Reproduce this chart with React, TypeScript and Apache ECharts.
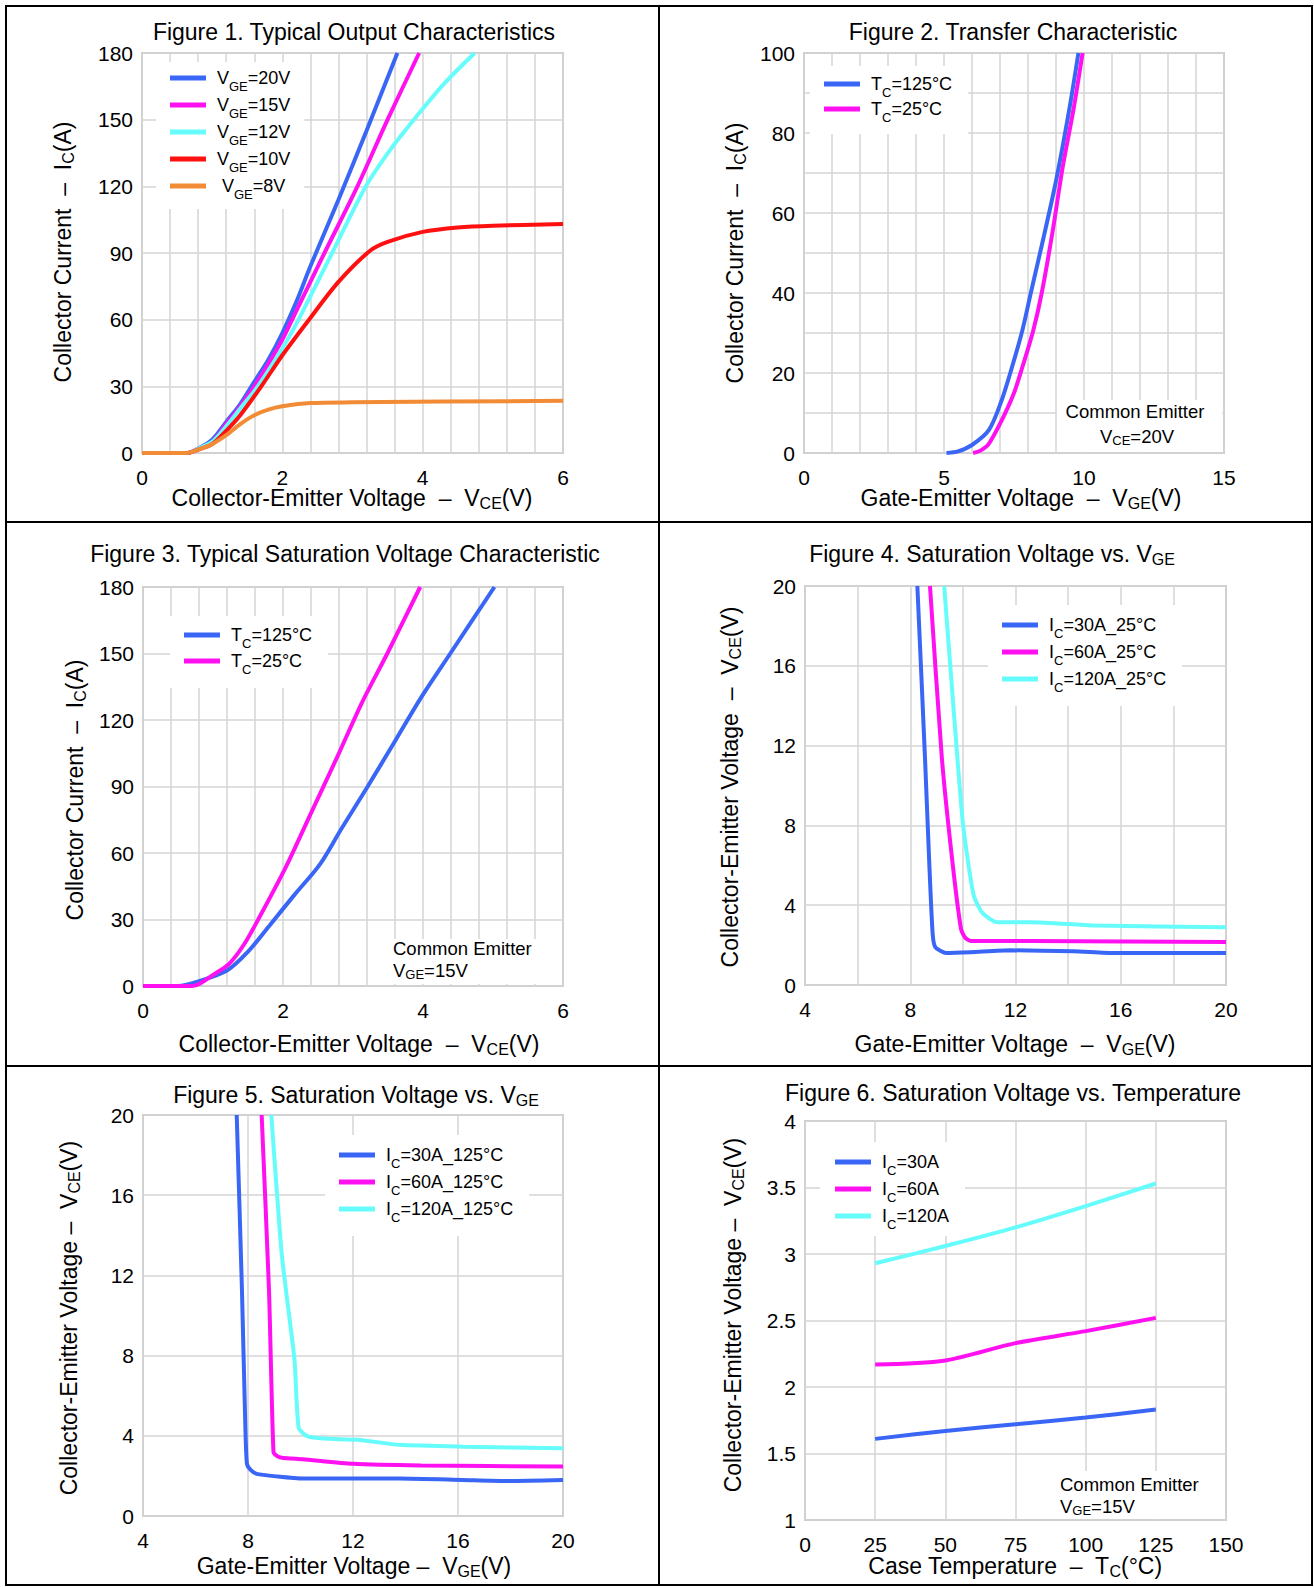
import {useEffect, useRef} from "react";
import * as echarts from "echarts";

// Figure 1: output characteristics, [VCE, IC]
const f1Vge20 = [[0, 0], [0.65, 0], [0.8, 2], [1.0, 6], [1.2, 14], [1.4, 22], [1.6, 32], [1.8, 42], [2.0, 54], [2.2, 68], [2.4, 84], [2.8, 114], [3.2, 145], [3.64, 180]];
const f1Vge15 = [[0, 0], [0.65, 0], [0.8, 2], [1.0, 5], [1.2, 13], [1.4, 21], [1.6, 30], [1.8, 40], [2.0, 51], [2.2, 64], [2.6, 90], [3.07, 120], [3.5, 150], [3.95, 180]];
const f1Vge12 = [[0, 0], [0.65, 0], [0.8, 2], [1.0, 5], [1.2, 12], [1.4, 20], [1.65, 30], [2.0, 47], [2.23, 60], [2.71, 90], [3.19, 120], [3.55, 137], [3.9, 151], [4.3, 166], [4.74, 180]];
const f1Vge10 = [[0, 0], [0.65, 0], [0.8, 1.5], [1.0, 4], [1.2, 10], [1.4, 17], [1.7, 30], [2.0, 44], [2.38, 60], [2.8, 77], [3.25, 91], [3.5, 95], [4.0, 99.5], [4.5, 101.5], [5, 102.3], [6, 103]];
const f1Vge8 = [[0, 0], [0.65, 0], [0.8, 1.5], [1.0, 4], [1.2, 8], [1.4, 13], [1.6, 17], [1.8, 19.5], [2.0, 21], [2.4, 22.5], [3, 22.8], [6, 23.5]];

// Figure 2: transfer characteristic, [VGE, IC]
const f2Tc125 = [[5.09, 0], [5.5, 0.4], [6.0, 2], [6.6, 5.7], [7.05, 13], [7.43, 21.5], [7.8, 30.7], [8.1, 40], [8.56, 54], [9.0, 68], [9.47, 85.7], [9.8, 100]];
const f2Tc25 = [[6.04, 0], [6.3, 0.6], [6.6, 2.3], [7.05, 8], [7.5, 15], [7.8, 21.5], [8.19, 30.7], [8.49, 40], [8.87, 55], [9.24, 71.5], [9.62, 85.7], [9.95, 100]];

// Figure 3: saturation voltage characteristic, [VCE, IC]
const f3Tc125 = [[0, 0], [0.5, 0], [0.78, 2], [1.2, 7], [1.5, 15.5], [1.8, 27], [2.16, 41], [2.53, 55], [2.83, 70.7], [3.19, 89], [3.61, 111], [3.97, 130], [4.39, 150], [5.02, 180]];
const f3Tc25 = [[0, 0], [0.7, 0], [0.81, 1], [1.02, 5.4], [1.23, 10], [1.44, 18.6], [1.68, 32], [2.04, 53.6], [2.4, 78], [2.77, 103], [3.13, 128], [3.49, 150], [3.96, 180]];

// Figure 4: VCE vs VGE at 25°C, [VGE, VCE]
const f4Ic30 = [[8.27, 20], [8.56, 11.4], [8.72, 6.2], [8.85, 2.6], [8.95, 1.9], [9.37, 1.6], [10.3, 1.64], [11.8, 1.74], [14.2, 1.69], [15.8, 1.6], [20, 1.6]];
const f4Ic60 = [[8.75, 20], [9.2, 11.4], [9.6, 6.2], [9.93, 2.8], [10.1, 2.35], [10.33, 2.2], [12.6, 2.2], [20, 2.15]];
const f4Ic120 = [[9.29, 20], [9.69, 13.1], [10.01, 8], [10.41, 4.5], [10.75, 3.6], [11.3, 3.15], [12.6, 3.15], [15, 2.98], [20, 2.9]];

// Figure 5: VCE vs VGE at 125°C, [VGE, VCE]
const f5Ic30 = [[7.57, 20], [7.77, 11.26], [7.9, 4.4], [7.96, 2.6], [8.1, 2.3], [8.33, 2.1], [9.13, 1.97], [10.09, 1.87], [13.78, 1.87], [16.18, 1.8], [17.8, 1.75], [20, 1.8]];
const f5Ic60 = [[8.52, 20], [8.8, 11.26], [8.97, 3.2], [9.1, 3.0], [9.29, 2.91], [10.1, 2.83], [12, 2.6], [14.6, 2.52], [20, 2.47]];
const f5Ic120 = [[8.89, 20], [9.29, 13], [9.77, 7.8], [9.93, 4.4], [10.25, 3.98], [10.9, 3.86], [12.17, 3.8], [13.78, 3.55], [16.18, 3.46], [20, 3.38]];

// Figure 6: VCE vs case temperature, [TC, VCE]
const f6Temps = [25, 50, 75, 100, 125];
const f6Ic30 = [1.61, 1.67, 1.72, 1.77, 1.83];
const f6Ic60 = [2.17, 2.2, 2.33, 2.42, 2.52];
const f6Ic120 = [2.93, 3.06, 3.2, 3.36, 3.53];

const BLUE = "#3a66f5";
const MAGENTA = "#ff10f0";
const CYAN = "#66fcfc";
const RED = "#ff1010";
const ORANGE = "#f28b35";
const GRIDC = "#d4d4d4";
const FONT = "Liberation Sans, Arial, sans-serif";

const rich = {
    s: {fontSize: 13, fontFamily: FONT, verticalAlign: "bottom", lineHeight: 22, padding: [0, 0, -4, 0]},
    g: {width: 6},
};

function labelEvery(step: number) {
    return (v: number) => Math.abs(v / step - Math.round(v / step)) < 1e-6 ? String(+v.toFixed(2)) : "";
}

function xAxis(gridIndex: number, min: number, max: number, interval: number, labelStep: number, margin = 14) {
    return {
        type: "value", gridIndex, min, max, interval,
        axisLine: {show: false}, axisTick: {show: false},
        axisLabel: {color: "#000", fontSize: 21, fontFamily: FONT, margin, formatter: labelEvery(labelStep), showMaxLabel: true, showMinLabel: true},
        splitLine: {show: true, lineStyle: {color: GRIDC, width: 1.5}},
    };
}

function yAxis(gridIndex: number, min: number, max: number, interval: number, labelStep: number) {
    return {
        type: "value", gridIndex, min, max, interval,
        axisLine: {show: false}, axisTick: {show: false},
        axisLabel: {color: "#000", fontSize: 21, fontFamily: FONT, margin: 9, formatter: labelEvery(labelStep)},
        splitLine: {show: true, lineStyle: {color: GRIDC, width: 1.5}},
    };
}

function line(name: string, idx: number, data: number[][], color: string, smooth: number | boolean = 0.3) {
    return {
        name, type: "line", xAxisIndex: idx, yAxisIndex: idx, data, smooth, symbol: "none",
        lineStyle: {color, width: 4}, itemStyle: {color}, clip: true,
    };
}

function legend(names: string[], labels: Record<string, string>, left: number, top: number, padding: number[], itemGap: number) {
    return {
        data: names, left, top, orient: "vertical", selectedMode: false,
        icon: "rect", itemWidth: 36, itemHeight: 5, itemGap,
        backgroundColor: "#fff", padding,
        formatter: (n: string) => "{g|}" + labels[n],
        textStyle: {fontSize: 18, fontFamily: FONT, color: "#000", rich},
    };
}

function txt(text: string, x: number, y: number, size: number, align = "center", rotate = 0) {
    return {
        type: "text", x, y, rotation: rotate, z: 100,
        style: {
            text, fill: "#000", align, verticalAlign: "middle", fontSize: size, fontFamily: FONT,
            rich: {s: {fontSize: Math.round(size * 0.68), fontFamily: FONT, padding: [Math.round(size * 0.45), 0, 0, 0]}},
        },
    };
}

function box(x: number, y: number, w: number, h: number) {
    return {type: "rect", shape: {x, y, width: w, height: h}, style: {fill: "#fff"}, z: 50};
}

function hline(x1: number, y1: number, x2: number, y2: number) {
    return {type: "line", shape: {x1, y1, x2, y2}, style: {stroke: "#000", lineWidth: 2}, z: 100};
}

export default function App() {
    const domRef = useRef<HTMLDivElement>(null);

    useEffect(() => {
        if (!domRef.current) return;
        document.body.style.margin = "0";
        const chart = echarts.init(domRef.current, null, {renderer: "svg"});
        const grid = (left: number, top: number, width: number, height: number) => ({
            left, top, width, height, show: true, borderColor: "#c8c8c8", borderWidth: 2, backgroundColor: "transparent",
        });
        chart.setOption({
            animation: false,
            backgroundColor: "#fff",
            grid: [
                grid(142, 53, 421, 400),
                grid(804, 53, 420, 400),
                grid(143, 587, 420, 399),
                grid(805, 586, 421, 399),
                grid(143, 1115, 420, 401),
                grid(805, 1121, 421, 399),
            ],
            xAxis: [
                xAxis(0, 0, 6, 0.4, 2),
                xAxis(1, 0, 15, 1, 5),
                xAxis(2, 0, 6, 0.4, 2),
                xAxis(3, 4, 20, 2, 4),
                xAxis(4, 4, 20, 4, 4),
                xAxis(5, 0, 150, 25, 25),
            ],
            yAxis: [
                yAxis(0, 0, 180, 30, 30),
                yAxis(1, 0, 100, 10, 20),
                yAxis(2, 0, 180, 30, 30),
                yAxis(3, 0, 20, 4, 4),
                yAxis(4, 0, 20, 4, 4),
                yAxis(5, 1, 4, 0.5, 0.5),
            ],
            legend: [
                legend(["a20", "a15", "a12", "a10", "a8"], {
                    a20: "V{s|GE}=20V", a15: "V{s|GE}=15V", a12: "V{s|GE}=12V", a10: "V{s|GE}=10V", a8: " V{s|GE}=8V",
                }, 156, 62, [7, 14, 8, 14], 3),
                legend(["b125", "b25"], {b125: "T{s|C}=125°C", b25: "T{s|C}=25°C"}, 810, 66, [9, 16, 10, 14], 1),
                legend(["c125", "c25"], {c125: "T{s|C}=125°C", c25: "T{s|C}=25°C"}, 170, 616, [10, 16, 12, 14], 2),
                legend(["d30", "d60", "d120"], {d30: "I{s|C}=30A_25°C", d60: "I{s|C}=60A_25°C", d120: "I{s|C}=120A_25°C"}, 988, 605, [11, 16, 12, 14], 3),
                legend(["e30", "e60", "e120"], {e30: "I{s|C}=30A_125°C", e60: "I{s|C}=60A_125°C", e120: "I{s|C}=120A_125°C"}, 325, 1135, [11, 16, 12, 14], 3),
                legend(["g30", "g60", "g120"], {g30: "I{s|C}=30A", g60: "I{s|C}=60A", g120: "I{s|C}=120A"}, 820, 1142, [11, 16, 5, 15], 3),
            ],
            series: [
                line("a20", 0, f1Vge20, BLUE),
                line("a15", 0, f1Vge15, MAGENTA),
                line("a12", 0, f1Vge12, CYAN),
                line("a10", 0, f1Vge10, RED),
                line("a8", 0, f1Vge8, ORANGE),
                line("b125", 1, f2Tc125, BLUE),
                line("b25", 1, f2Tc25, MAGENTA),
                line("c125", 2, f3Tc125, BLUE),
                line("c25", 2, f3Tc25, MAGENTA),
                line("d30", 3, f4Ic30, BLUE, 0.2),
                line("d60", 3, f4Ic60, MAGENTA, 0.2),
                line("d120", 3, f4Ic120, CYAN, 0.2),
                line("e30", 4, f5Ic30, BLUE, 0.2),
                line("e60", 4, f5Ic60, MAGENTA, 0.2),
                line("e120", 4, f5Ic120, CYAN, 0.2),
                line("g30", 5, f6Temps.map((t, i) => [t, f6Ic30[i]]), BLUE),
                line("g60", 5, f6Temps.map((t, i) => [t, f6Ic60[i]]), MAGENTA),
                line("g120", 5, f6Temps.map((t, i) => [t, f6Ic120[i]]), CYAN),
            ],
            graphic: [
                // frame
                {type: "rect", shape: {x: 6, y: 6, width: 1306, height: 1579}, style: {fill: "none", stroke: "#000", lineWidth: 2}, z: 100},
                hline(6, 522, 1312, 522),
                hline(6, 1066, 1312, 1066),
                hline(659, 6, 659, 1585),
                // titles
                txt("Figure 1. Typical Output Characteristics", 354, 32, 23),
                txt("Figure 2. Transfer Characteristic", 1013, 32, 23),
                txt("Figure 3. Typical Saturation Voltage Characteristic", 345, 554, 23),
                txt("Figure 4. Saturation Voltage vs. V{s|GE}", 992, 554, 23),
                txt("Figure 5. Saturation Voltage vs. V{s|GE}", 356, 1095, 23),
                txt("Figure 6. Saturation Voltage vs. Temperature", 1013, 1093, 23),
                // x axis names
                txt("Collector-Emitter Voltage  –  V{s|CE}(V)", 352, 498, 23),
                txt("Gate-Emitter Voltage  –  V{s|GE}(V)", 1021, 498, 23),
                txt("Collector-Emitter Voltage  –  V{s|CE}(V)", 359, 1044, 23),
                txt("Gate-Emitter Voltage  –  V{s|GE}(V)", 1015, 1044, 23),
                txt("Gate-Emitter Voltage –  V{s|GE}(V)", 354, 1566, 23),
                txt("Case Temperature  –  T{s|C}(°C)", 1015, 1566, 23),
                // y axis names
                txt("Collector Current  –  I{s|C}(A)", 63, 252, 23, "center", Math.PI / 2),
                txt("Collector Current  –  I{s|C}(A)", 735, 253, 23, "center", Math.PI / 2),
                txt("Collector Current  –  I{s|C}(A)", 75, 790, 23, "center", Math.PI / 2),
                txt("Collector-Emitter Voltage  –  V{s|CE}(V)", 730, 787, 23, "center", Math.PI / 2),
                txt("Collector-Emitter Voltage –  V{s|CE}(V)", 69, 1318, 23, "center", Math.PI / 2),
                txt("Collector-Emitter Voltage –  V{s|CE}(V)", 733, 1315, 23, "center", Math.PI / 2),
                // annotations
                box(1057, 400, 165, 52),
                txt("Common Emitter", 1135, 411, 18.5),
                txt("V{s|CE}=20V", 1137, 436, 18.5),
                box(392, 939, 169, 45),
                txt("Common Emitter", 393, 948, 18.5, "left"),
                txt("V{s|GE}=15V", 393, 970, 18.5, "left"),
                box(1055, 1471, 169, 48),
                txt("Common Emitter", 1060, 1484, 18.5, "left"),
                txt("V{s|GE}=15V", 1060, 1506, 18.5, "left"),
            ],
        });
        return () => chart.dispose();
    }, []);

    return <div ref={domRef} style={{width: 1314, height: 1588}} />;
}
